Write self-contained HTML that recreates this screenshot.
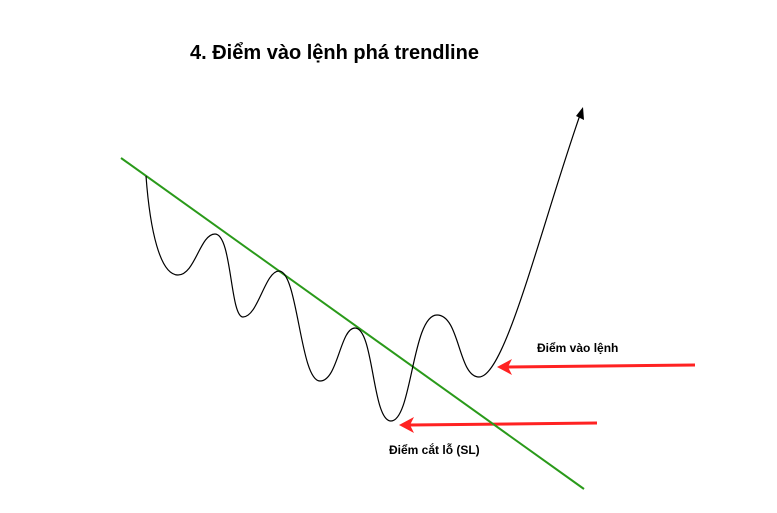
<!DOCTYPE html>
<html><head><meta charset="utf-8"><style>
html,body{margin:0;padding:0;background:#fff;width:777px;height:513px;overflow:hidden}
svg text{font-family:"Liberation Sans",sans-serif;font-weight:bold;fill:#000}
</style></head><body>
<svg width="777" height="513" viewBox="0 0 777 513">
<text x="190" y="59" font-size="20">4. Điểm vào lệnh phá trendline</text>
<g>
<line x1="695" y1="365" x2="508" y2="367" stroke="#f22" stroke-width="3"/>
<polygon points="497,367 512,359 508,367 512,375" fill="#f22"/>
</g>
<g>
<line x1="597" y1="423" x2="410" y2="425" stroke="#f22" stroke-width="3"/>
<polygon points="399,425 414,417 410,425 414,433" fill="#f22"/>
</g>
<line x1="121" y1="158" x2="584" y2="489" stroke="#2a9a1a" stroke-width="2"/>
<path fill="none" stroke="#000" stroke-width="1.2"
d="M146,176 C150,230 160,275 178,275 C195,275 200,234 215,234 C232,234 230,317 243,317 C258,317 265,271 279,271 C298,271 300,381 320,381 C338,381 340,328 355,328 C374,328 372,421 391,421 C412,421 412,315 437,315 C460,315 458,377 479,377 C505,377 540,230 580,115"/>
<polygon points="583,107 584,120 576,116" fill="#000"/>
<text x="537" y="352" font-size="12">Điểm vào lệnh</text>
<text x="389" y="454" font-size="12">Điểm cắt lỗ (SL)</text>
</svg>
</body></html>
